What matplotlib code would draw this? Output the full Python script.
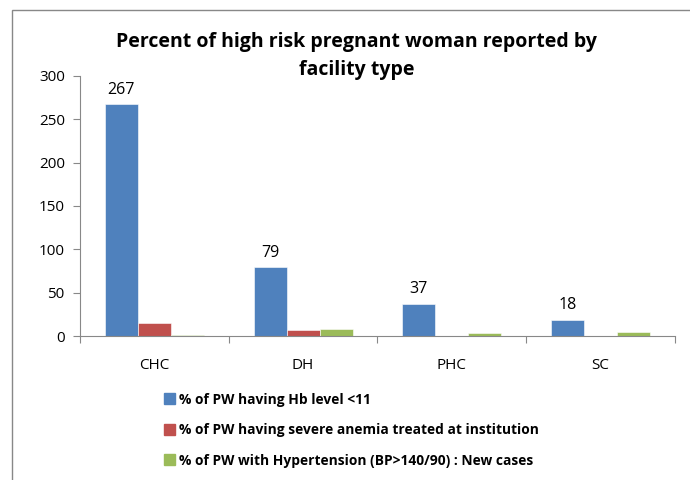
import matplotlib.pyplot as plt
import matplotlib.patches as mpatches
import numpy as np

# facility types and series values
facility = ['CHC', 'DH', 'PHC', 'SC']
hb_below_11 = [267, 79, 37, 18]
severe_anemia = [15, 7, 0, 0]
hypertension = [1.5, 8.5, 4, 5]
series_names = ['% of PW having Hb level <11',
                '% of PW having severe anemia treated at institution',
                '% of PW with Hypertension (BP>140/90) : New cases']

plt.rcParams['font.family'] = ['Open Sans', 'DejaVu Sans']

fig = plt.figure(figsize=(6.9, 4.8), dpi=100)
ax = fig.add_axes([0.116, 0.30, 0.862, 0.542])

x = np.arange(len(facility))
w = 0.222
colors = ['#4F81BD', '#C0504D', '#9BBB59']
for i, vals in enumerate([hb_below_11, severe_anemia, hypertension]):
    ax.bar(x + (i - 1) * w, vals, w, color=colors[i], edgecolor='white', linewidth=0.4)

# labels on the blue series only
for xi, v in zip(x, hb_below_11):
    ax.text(xi - w, v + 8, str(v), ha='center', va='bottom', fontsize=11.5)

ax.set_xlim(-0.5, 3.5)
ax.set_ylim(0, 300)
ax.set_yticks(range(0, 301, 50))
ax.set_xticks(np.arange(-0.5, 3.6, 1))
ax.set_xticklabels([])
ax.set_xticks(x, minor=True)
ax.set_xticklabels(facility, minor=True, fontsize=11)
ax.tick_params(axis='x', which='minor', length=0, pad=16)
ax.tick_params(axis='x', which='major', length=5, color='#888888')
ax.tick_params(axis='y', length=5, color='#888888', labelsize=11, pad=6)
for s in ['top', 'right']:
    ax.spines[s].set_visible(False)
for s in ['left', 'bottom']:
    ax.spines[s].set_color('#888888')

fig.text(0.517, 0.884, 'Percent of high risk pregnant woman reported by\nfacility type',
         ha='center', va='center', fontsize=14, fontweight='bold', linespacing=1.55)

handles = [mpatches.Patch(color=c) for c in colors]
fig.legend(handles, series_names, loc='upper left', bbox_to_anchor=(0.22, 0.208),
           frameon=False, prop={'weight': 'bold', 'size': 9.9},
           handlelength=0.8, handleheight=0.8, handletextpad=0.3, labelspacing=1.2)

# outer chart border
fig.patches.append(mpatches.Rectangle((0.017, -0.05), 1.1, 1.029, transform=fig.transFigure,
                                      fill=False, edgecolor='#888888', linewidth=1))

fig.savefig('out.png', dpi=100)
